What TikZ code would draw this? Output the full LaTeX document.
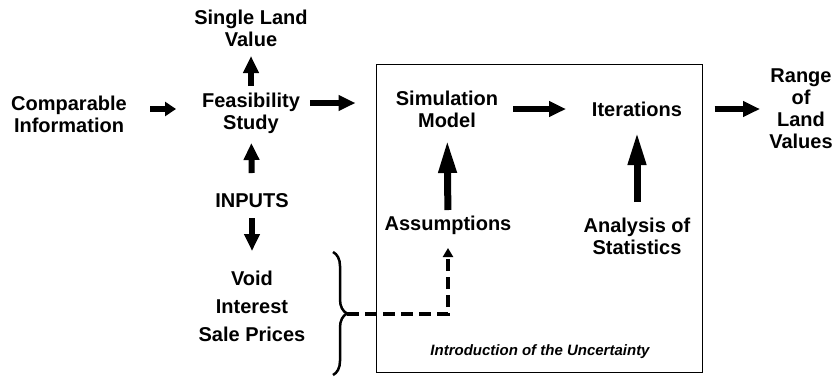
\documentclass[tikz,border=0pt]{standalone}
\usepackage{fontspec}
\setmainfont{Liberation Sans}
\usetikzlibrary{arrows.meta}
\usetikzlibrary{decorations.pathreplacing}
\tikzset{%
  lbl/.style = {inner sep=0pt, align=center,
        font=\fontsize{20}{22}\selectfont\bfseries},
  arr/.style = {-{Triangle[length=17pt,width=15pt]}, line width=6pt},
  smallarr/.style = {-{Triangle[length=11pt,width=14pt]}, line width=5.5pt},
  bigarr/.style = {-{Triangle[length=33pt,width=17pt]}, line width=7pt},
  dasharr/.style = {-{Triangle[length=9pt,width=10pt]}, line width=4pt,
        dash pattern=on 12pt off 6pt},
  frame/.style = {draw, line width=1pt, minimum width=326pt,
        minimum height=308pt}
}
\begin{document}
\begin{tikzpicture}[x=1pt,y=-1pt]
\useasboundingbox (0,0) rectangle (838,376);
% left part
\node[lbl] (single) at (251,28) {Single Land\\Value};
\node[lbl] (comp) at (69,114) {Comparable\\Information};
\node[lbl] (feas) at (251,113) {Feasibility\\Study};
\node[lbl] (inputs) at (252,201) {INPUTS};
\node[lbl] (list) at (252,306) {Void\\[6pt]Interest\\[6pt]Sale Prices};
% the box
\node[frame] (uncert) at (539,218) {};
\node[lbl] (sim) at (447,109) {Simulation\\Model};
\node[lbl] (iter) at (637,109) {Iterations};
\node[lbl] (assum) at (448,225) {Assumptions};
\node[lbl] (stats) at (637,236) {Analysis of\\Statistics};
\node[lbl, font=\fontsize{15}{18}\selectfont\bfseries\itshape] (intro)
    at (540,352) {Introduction of the Uncertainty};
\node[lbl] (range) at (801,109) {Range\\of\\Land\\Values};
% arrows
\draw[smallarr, shorten <=81pt, shorten >=75pt]
    ([yshift=5pt]comp.center) -- ([yshift=4pt]feas.center);
\draw[arr, shorten <=59pt, shorten >=20pt]
    ([yshift=10pt]feas.center) -- ([yshift=10pt]feas.center -| uncert.west);
\draw[arr, shorten <=27pt, shorten >=28pt] (feas.center) -- (single.center);
\draw[arr, shorten <=28pt, shorten >=30pt] (inputs.center) -- (feas.center);
\draw[arr, shorten <=17pt, shorten >=55pt] (inputs.center) -- (list.center);
\draw[arr, shorten <=66pt, shorten >=71pt] (sim.center) -- (iter.center);
\draw[arr, shorten <=12pt, shorten >=41pt]
    (uncert.east |- range.center) -- (range.center);
\draw[bigarr, shorten <=15pt, shorten >=31pt] (assum.center) -- (sim.center);
\draw[bigarr, shorten <=34pt, shorten >=23pt] (stats.center) -- (iter.center);
% brace and dashed link
\coordinate (braceTop) at (333,252);
\coordinate (braceBot) at (333,375);
\coordinate (braceTip) at (347,314);
\draw[decorate, decoration={brace, amplitude=14pt}, line width=2.5pt]
    (braceTop) -- (braceBot);
\draw[dasharr, shorten >=23pt] (braceTip) -| (assum.center);
\end{tikzpicture}
\end{document}
